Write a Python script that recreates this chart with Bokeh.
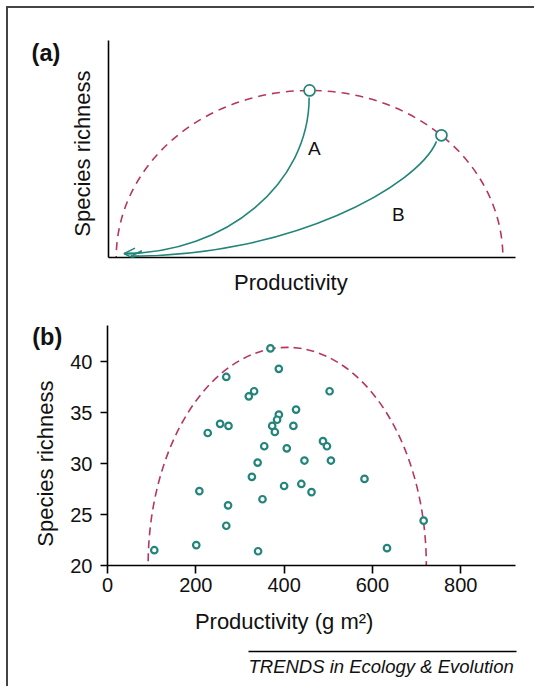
import math
from bokeh.plotting import figure
from bokeh.models import Label, Arrow, OpenHead, FixedTicker, ColumnDataSource
from bokeh.layouts import column
from bokeh.embed import file_html
from bokeh.resources import INLINE
from bokeh.core.properties import value

# ---------------- Panel (a): conceptual diagram ----------------
env_a_x = [49.4]          # centre of envelope (productivity units 0-100)
env_a_y = [0.0]
env_a_w = [95.0]          # full width of envelope
env_a_h = [154.0]         # 2 x peak richness

peak_x = [49.4, 81.8]     # circles on the envelope
peak_y = [77.0, 56.3]

curve_names = ["A", "B"]
curve_x0 = [49.3, 80.6]
curve_y0 = [73.7, 53.5]
curve_cx0 = [49.3, 76.0]
curve_cy0 = [34.0, 33.0]
curve_cx1 = [28.8, 45.0]
curve_cy1 = [1.8, 0.6]
curve_x1 = [3.8, 5.5]
curve_y1 = [1.8, 0.6]
label_x = [50.6, 71.2]
label_y = [50.2, 19.8]

# ---------------- Panel (b): field data ----------------
productivity = [369, 388, 269, 320, 332, 427, 388, 384, 373, 379, 421, 255,
                274, 227, 355, 406, 446, 340, 327, 400, 439, 462, 208, 351,
                273, 269, 201, 106, 341, 503, 488, 497, 506, 582, 716, 633]
richness = [41.3, 39.3, 38.5, 36.6, 37.1, 35.3, 34.8, 34.3, 33.7, 33.1, 33.7, 33.9,
            33.7, 33.0, 31.7, 31.5, 30.3, 30.1, 28.7, 27.8, 28.0, 27.2, 27.3, 26.5,
            25.9, 23.9, 22.0, 21.5, 21.4, 37.1, 32.2, 31.7, 30.3, 28.5, 24.4, 21.7]
env_b_x = [407]
env_b_y = [20]
env_b_w = [630]
env_b_h = [42.8]
x_ticks = [0, 200, 400, 600, 800]
y_ticks = [20, 25, 30, 35, 40]

TEAL = "#23857a"
RED = "#b83563"
FONT = "Liberation Sans"
INK = "#111111"


def side_label(p, side, x, y, text, size="22px", bold=False, angle=0.0,
               align="center", baseline="middle"):
    p.add_layout(Label(x=x, y=y, text=text, angle=angle, text_align=align,
                       text_baseline=baseline, text_font=FONT, text_font_size=size,
                       text_font_style="bold" if bold else "normal", text_color=INK), side)


# ---------- figure a ----------
pa = figure(width=518, height=290, x_range=(0, 100), y_range=(0, 100),
            output_backend="svg", toolbar_location=None,
            min_border_left=100, min_border_right=11, min_border_top=32, min_border_bottom=41)
pa.ellipse(x=env_a_x, y=env_a_y, width=env_a_w, height=env_a_h,
           fill_color=None, line_color=RED, line_width=1.6, line_dash="8 6")
src = ColumnDataSource(dict(x0=curve_x0, y0=curve_y0, cx0=curve_cx0, cy0=curve_cy0,
                            cx1=curve_cx1, cy1=curve_cy1, x1=curve_x1, y1=curve_y1,
                            xs=[v + 2.0 for v in curve_x1], lx=label_x, ly=label_y,
                            name=curve_names))
pa.bezier(x0="x0", y0="y0", x1="x1", y1="y1", cx0="cx0", cy0="cy0", cx1="cx1", cy1="cy1",
          source=src, line_color=TEAL, line_width=1.6)
pa.add_layout(Arrow(end=OpenHead(size=11, line_color=TEAL, line_width=1.6),
                    source=src, x_start="xs", y_start="y1", x_end="x1", y_end="y1",
                    line_color=TEAL, line_width=1.6))
pa.scatter(x=peak_x, y=peak_y, size=11, marker="circle", fill_color="white",
           line_color=TEAL, line_width=1.7)
pa.text(x="lx", y="ly", text="name", source=src, text_font=value(FONT),
        text_font_size="19px", text_align="center", text_baseline="middle", text_color=INK)
pa.xaxis.ticker = FixedTicker(ticks=[])
pa.yaxis.ticker = FixedTicker(ticks=[])
pa.axis.major_label_standoff = 0
side_label(pa, "above", -18.9, 100.2, "(a)", size="23.5px", bold=True, align="left", baseline="top")
side_label(pa, "left", -6.3, 47.9, "Species richness", angle=math.pi / 2)
side_label(pa, "below", 44.8, -11.5, "Productivity")

# ---------- figure b ----------
pb = figure(width=518, height=340, x_range=(0, 924), y_range=(20, 43.55),
            output_backend="svg", toolbar_location=None,
            min_border_left=99, min_border_right=11, min_border_top=27, min_border_bottom=73)
pb.ellipse(x=env_b_x, y=env_b_y, width=env_b_w, height=env_b_h,
           fill_color=None, line_color=RED, line_width=1.6, line_dash="8 5")
pb.scatter(x=productivity, y=richness, size=6.5, marker="circle", fill_color="white",
           line_color=TEAL, line_width=2.2)
pb.xaxis.ticker = FixedTicker(ticks=x_ticks)
pb.yaxis.ticker = FixedTicker(ticks=y_ticks)
pb.xaxis.major_tick_out = 8
pb.yaxis.major_tick_out = 7
pb.axis.major_tick_in = 0
pb.axis.major_tick_line_width = 1.6
pb.axis.major_tick_line_color = "black"
pb.xaxis.major_label_standoff = 4
pb.yaxis.major_label_standoff = 8
pb.axis.major_label_text_font = FONT
pb.axis.major_label_text_font_size = "20px"
pb.axis.major_label_text_color = INK
side_label(pb, "above", -170.5, 43.65, "(b)", size="23.5px", bold=True, align="left", baseline="top")
side_label(pb, "left", -140.4, 30.0, "Species richness", angle=math.pi / 2)
side_label(pb, "below", 400, 14.5, "Productivity (g m²)")

for p in (pa, pb):
    p.xgrid.visible = False
    p.ygrid.visible = False
    p.outline_line_color = None
    p.frame_align = False
    p.axis.axis_line_width = 1.6
    p.axis.axis_line_color = "black"
    p.axis.minor_tick_line_color = None
    p.axis.minor_tick_out = 0

# ---------- footer ----------
pf = figure(width=518, height=50, x_range=(0, 518), y_range=(0, 50),
            output_backend="svg", toolbar_location=None,
            x_axis_type=None, y_axis_type=None, min_border=0)
pf.frame_align = False
pf.xgrid.visible = False
pf.ygrid.visible = False
pf.outline_line_color = None
pf.segment(x0=[240], y0=[37], x1=[508], y1=[37], line_color="black", line_width=1.5)
pf.text(x=[240], y=[33], text=["TRENDS in Ecology & Evolution"], text_font=value(FONT),
        text_font_style="italic", text_font_size="18.5px", text_baseline="top",
        text_align="left", text_color=INK)

layout = column(pa, pb, pf, spacing=0, margin=(8, 0, 0, 8), width=528,
                styles={"box-shadow": "-2px -2px 0 0 #444444"})

open("out.html", "w").write(file_html(layout, INLINE))
